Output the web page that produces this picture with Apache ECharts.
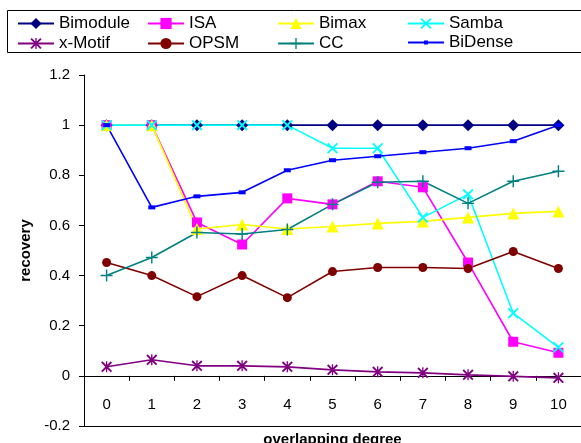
<!DOCTYPE html>
<html><head><meta charset="utf-8">
<script src="https://cdn.jsdelivr.net/npm/echarts@6/dist/echarts.min.js"></script>
<style>html,body{margin:0;padding:0;background:#fff}#c{width:581px;height:443px}</style>
</head><body><div id="c"></div>
<script>
const categories = ['0','1','2','3','4','5','6','7','8','9','10'];
const bimodule = [1,1,1,1,1,1,1,1,1,1,1];
const isa      = [1,1,0.612,0.524,0.708,0.684,0.776,0.752,0.452,0.136,0.092];
const bimax    = [1,1,0.586,0.604,0.586,0.596,0.608,0.616,0.632,0.648,0.656];
const samba    = [1,1,1,1,1,0.908,0.908,0.632,0.724,0.25,0.114];
const xmotif   = [0.036,0.064,0.04,0.04,0.036,0.024,0.016,0.012,0.004,-0.002,-0.008];
const opsm     = [0.452,0.4,0.316,0.4,0.312,0.416,0.432,0.432,0.428,0.496,0.428];
const cc       = [0.4,0.472,0.572,0.566,0.584,0.684,0.772,0.776,0.688,0.776,0.816];
const bidense  = [1,0.672,0.716,0.732,0.82,0.86,0.876,0.892,0.908,0.936,1];
const yTicks = [-0.2,0,0.2,0.4,0.6,0.8,1,1.2];

const FONT = 'Liberation Sans, Arial, sans-serif';
const XPATH = 'path://M0,1.2 L1.2,0 L5,3.8 L8.8,0 L10,1.2 L6.2,5 L10,8.8 L8.8,10 L5,6.2 L1.2,10 L0,8.8 L3.8,5 Z';
const PLUS = 'path://M4.4,0 H5.6 V4.4 H10 V5.6 H5.6 V10 H4.4 V5.6 H0 V4.4 H4.4 Z';
const STAR = 'path://M0,1.2 L1.2,0 L5,3.8 L8.8,0 L10,1.2 L6.2,5 L10,8.8 L8.8,10 L5,6.2 L1.2,10 L0,8.8 L3.8,5 Z M4.4,0 H5.6 V10 H4.4 Z';

function s(name, data, color, symbol, size) {
  return {
    name, type: 'line', data, symbol, symbolSize: size,
    lineStyle: {color, width: 1.6},
    itemStyle: {color},
    emphasis: {disabled: true},
    animation: false
  };
}

const series = [
  s('Bimodule', bimodule, '#000080', 'diamond', 12),
  s('ISA', isa, '#FF00FF', 'rect', 10),
  s('Bimax', bimax, '#FFFF00', 'triangle', 12),
  s('Samba', samba, '#00FFFF', XPATH, 11),
  s('x-Motif', xmotif, '#800080', STAR, 11),
  s('OPSM', opsm, '#800000', 'circle', 9),
  s('CC', cc, '#008080', PLUS, 12),
  s('BiDense', bidense, '#0000FF', 'rect', [7,4])
];

const textStyle = {fontFamily: FONT, fontSize: 17, color: '#000'};
function lg(data, left, top, h, gap) {
  return {data, orient: 'vertical', left, top, itemWidth: 36, itemHeight: h, itemGap: gap,
    padding: 0, textStyle, selectedMode: false};
}
const legends = [
  lg(['Bimodule','x-Motif'], 17, 15, 14, 3),
  lg(['ISA','OPSM'], 147, 15, 14, 3),
  lg(['Bimax','CC'], 277, 15, 14, 3),
  lg(['Samba'], 407, 15, 14, 3),
  lg(['BiDense'], 407, 34, 5, 0)
];

const splitColors = yTicks.map((v,i)=> i===0 ? '#000' : 'rgba(0,0,0,0)');

const chart = echarts.init(document.getElementById('c'), null, {renderer: 'canvas'});
chart.setOption({
  animation: false,
  backgroundColor: '#fff',
  legend: legends,
  graphic: [{type:'rect', shape:{x:7.5,y:10.5,width:600,height:42}, style:{fill:'none', stroke:'#000', lineWidth:1}}],
  grid: {left: 84, right: 0, top: 75, bottom: 17, containLabel: false, outerBoundsMode: 'none'},
  xAxis: [{
    type: 'category', data: categories, boundaryGap: true, position: 'bottom',
    axisLine: {show: false, onZero: false},
    axisTick: {show: false},
    axisLabel: {fontFamily: FONT, fontSize: 15, color: '#000', margin: -29},
    name: 'overlapping degree', nameLocation: 'middle', nameGap: 3,
    nameTextStyle: {fontFamily: FONT, fontSize: 15, fontWeight: 'bold', color:'#000', verticalAlign: 'top'}
  },{
    type: 'category', data: categories, boundaryGap: true, position: 'top',
    axisLine: {show: true, onZero: true, lineStyle: {color:'#000', width:1}},
    axisTick: {show: true, inside: true, length: 5, lineStyle:{color:'#000'}},
    axisLabel: {show: false}
  }],
  yAxis: {
    type: 'value', min: -0.2, max: 1.2, interval: 0.2,
    axisLine: {show: true, onZero: false, lineStyle: {color:'#000', width:1}},
    axisTick: {show: true, length: 5, lineStyle:{color:'#000'}},
    splitLine: {show: true, lineStyle: {color: splitColors, width: 1}},
    axisLabel: {fontFamily: FONT, fontSize: 15, color:'#000', margin: 14,
      formatter: v => String(parseFloat(v.toFixed(1)))},
    name: 'recovery', nameLocation: 'middle', nameGap: 47,
    nameTextStyle: {fontFamily: FONT, fontSize: 15, fontWeight: 'bold', color:'#000'}
  },
  series
});
</script></body></html>
